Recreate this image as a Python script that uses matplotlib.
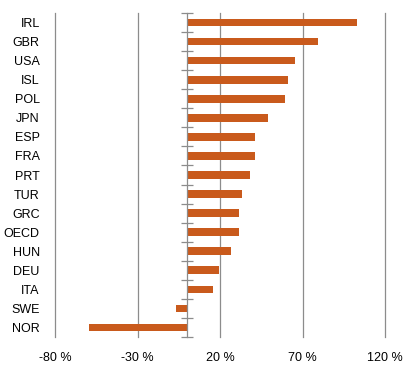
import numpy as np
import matplotlib.pyplot as plt

plt.rcParams['font.family'] = ['Liberation Sans', 'DejaVu Sans']

countries = ['IRL', 'GBR', 'USA', 'ISL', 'POL', 'JPN', 'ESP', 'FRA', 'PRT',
             'TUR', 'GRC', 'OECD', 'HUN', 'DEU', 'ITA', 'SWE', 'NOR']
values = [103.0, 79.6, 65.4, 61.2, 59.4, 49.1, 41.2, 41.2, 38.2,
          33.5, 31.7, 31.7, 26.7, 19.6, 15.8, -6.5, -59.2]
xticks = [-80, -30, 20, 70, 120]

bar_color = '#C95A1C'
grid_color = '#8C8C8C'

fig = plt.figure(figsize=(4.09, 3.80), dpi=100)
ax = fig.add_axes([55 / 409, 43 / 380, 330 / 409, 324 / 380])

y = np.arange(len(countries))
ax.barh(y, values, height=0.4, color=bar_color, zorder=3)

ax.set_xlim(xticks[0], xticks[-1])
ax.set_ylim(len(countries) - 0.5, -0.5)

ax.set_xticks(xticks)
ax.set_xticklabels(['%d %%' % t for t in xticks])
ax.tick_params(axis='x', length=0, pad=11, labelsize=9, colors='black')
ax.grid(axis='x', color=grid_color, linewidth=0.9, zorder=0)
for gl in ax.xaxis.get_gridlines():
    gl.set_clip_on(False)

ax.set_yticks(y)
ax.set_yticklabels(countries)
ax.set_yticks(np.arange(len(countries) + 1) - 0.5, minor=True)
ax.tick_params(axis='y', which='major', left=False, right=False, length=0,
               pad=11, labelsize=9)
ax.tick_params(axis='y', which='minor', left=False, right=True,
               direction='inout', length=9, width=0.9, color=grid_color)

for s in ['top', 'bottom', 'left']:
    ax.spines[s].set_visible(False)
ax.spines['right'].set_position(('data', 0))
ax.spines['right'].set_color(grid_color)
ax.spines['right'].set_linewidth(0.9)
ax.spines['right'].set_zorder(4)

fig.savefig('out.png', dpi=100)
